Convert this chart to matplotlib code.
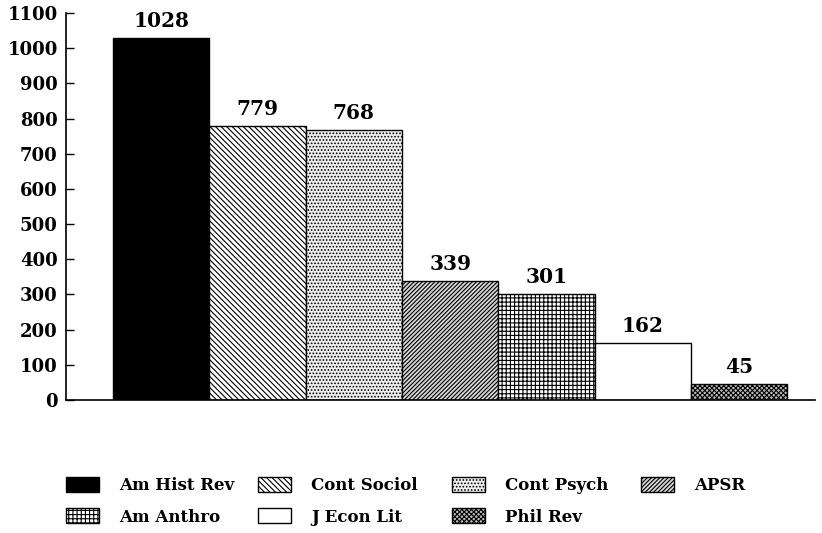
import matplotlib
matplotlib.use("Agg")
import matplotlib.pyplot as plt
from matplotlib.patches import Patch

journals = ["Am Hist Rev", "Cont Sociol", "Cont Psych", "APSR", "Am Anthro", "J Econ Lit", "Phil Rev"]
values = [1028, 779, 768, 339, 301, 162, 45]
y_ticks = [0, 100, 200, 300, 400, 500, 600, 700, 800, 900, 1000, 1100]

faces = ["black", "white", "#f0f0f0", "#d8d8d8", "white", "white", "#bdbdbd"]
hatches = [None, "\\\\\\\\\\\\", ".....", "////////", "++++", None, "xxxxxxx"]

plt.rcParams["hatch.linewidth"] = 0.8
plt.rcParams["font.family"] = ["DejaVu Serif"]
plt.rcParams["font.weight"] = "bold"

fig = plt.figure(figsize=(8.22, 5.33), dpi=100)
ax = fig.add_axes([66/822, 1-400/533, (815-66)/822, (400-13)/533])

x = list(range(len(journals)))
bars = ax.bar(x, values, width=1.0, color=faces, edgecolor="black", linewidth=1.0)
for b, h in zip(bars, hatches):
    if h:
        b.set_hatch(h)

for xi, v in zip(x, values):
    ax.annotate(str(v), (xi, v), xytext=(0, 5), textcoords="offset points",
                ha="center", va="bottom", fontsize=14.5, fontweight="bold")

ax.set_xlim(-0.99, 6.79)
ax.set_ylim(0, 1100)
ax.set_yticks(y_ticks)
ax.set_yticklabels([str(t) for t in y_ticks], fontsize=13, fontweight="bold")
ax.set_xticks([])
ax.tick_params(axis="y", direction="in", length=6, width=1, pad=6)
for s in ["top", "right"]:
    ax.spines[s].set_visible(False)
ax.spines["left"].set_linewidth(1.2)
ax.spines["bottom"].set_linewidth(1.2)

handles = [Patch(facecolor=f, edgecolor="black", hatch=h, label=j, linewidth=1.0)
           for j, f, h in zip(journals, faces, hatches)]
columns = [[0, 4], [1, 5], [2, 6], [3]]
col_x = [66, 258, 452, 641]
for idxs, cx in zip(columns, col_x):
    leg = fig.legend([handles[i] for i in idxs], [journals[i] for i in idxs],
                     loc="upper left", bbox_to_anchor=(cx/822, 1-477/533),
                     frameon=False, fontsize=12, handlelength=2.0, handleheight=1.0,
                     handletextpad=1.2, labelspacing=0.85,
                     borderaxespad=0, borderpad=0)

fig.savefig("out.png", dpi=100)
